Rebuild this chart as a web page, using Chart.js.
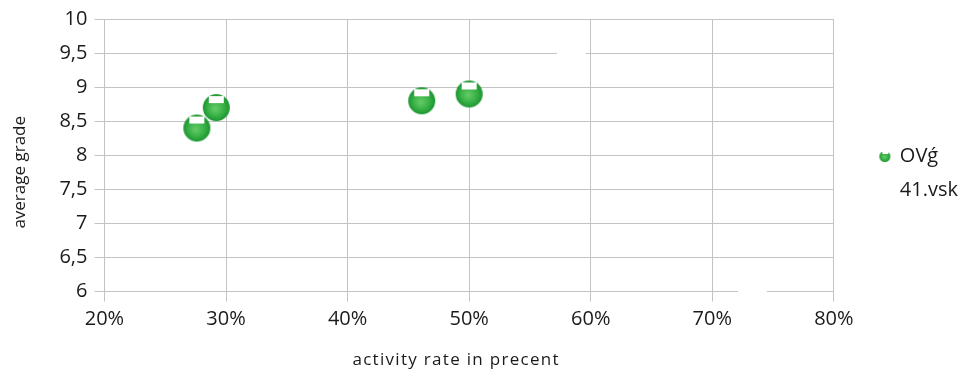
<!DOCTYPE html>
<html>
<head>
<meta charset="utf-8">
<script src="https://cdn.jsdelivr.net/npm/chart.js@4/dist/chart.umd.min.js"></script>
<style>
  html, body { margin: 0; padding: 0; background: #ffffff; }
  canvas { display: block; }
</style>
</head>
<body>
<canvas id="chart" width="969" height="369"></canvas>
<script>
// Series data: activity rate (percent) vs. average grade
const seriesNames = ['OVǵ', '41.vsk'];
const ovgActivity = [27.6, 29.2, 46.1, 50.0];
const ovgGrade = [8.4, 8.7, 8.8, 8.9];
const vskActivity = [58.4, 73.3];
const vskGrade = [9.5, 6.0];

// Axis ranges and tick steps
const xRange = [20, 80];
const xStep = 10;
const yRange = [6, 10];
const yStep = 0.5;

const FONT = '"Open Sans", "Liberation Sans", sans-serif';
const TEXT = '#1a1a1a';
const GRID = '#c3c3c3';

// Glossy green sphere marker with a small white cap
function makeSphere(r, capW, capH, capTop) {
  const size = Math.ceil(r * 2) + 2;
  const c = document.createElement('canvas');
  c.width = size; c.height = size;
  const g = c.getContext('2d');
  const cx = size / 2, cy = size / 2;
  const grad = g.createRadialGradient(cx - r * 0.1, cy + r * 0.1, 0, cx, cy, r);
  grad.addColorStop(0, '#66cc66');
  grad.addColorStop(0.55, '#3cb44a');
  grad.addColorStop(1, '#1b9530');
  g.fillStyle = grad;
  g.beginPath();
  g.arc(cx, cy, r, 0, Math.PI * 2);
  g.fill();
  g.fillStyle = '#ffffff';
  g.fillRect(Math.round(cx - capW / 2), Math.round(cy - r + capTop), capW, capH);
  return c;
}

const bigSphere = makeSphere(13.5, 15, 7, 2);
const smallSphere = makeSphere(5.5, 6, 3, 0);

const ovgPoints = ovgActivity.map((x, i) => ({ x, y: ovgGrade[i] }));
const vskPoints = vskActivity.map((x, i) => ({ x, y: vskGrade[i] }));

// Offset an axis title (and optionally space its letters) when it is drawn
function wrapTitle(scale, dx, dy, spacing) {
  if (!scale || scale._titleWrapped) return;
  const orig = scale.drawTitle;
  scale.drawTitle = function () {
    const ctx = this.ctx;
    ctx.save();
    ctx.translate(dx, dy);
    if (spacing) ctx.letterSpacing = spacing;
    orig.apply(this, arguments);
    ctx.restore();
  };
  scale._titleWrapped = true;
}

const layoutTweaks = {
  id: 'layoutTweaks',
  afterLayout(chart) {
    const lg = chart.legend;
    if (lg) { lg.top -= 19; lg.bottom -= 19; }
  },
  beforeDraw(chart) {
    wrapTitle(chart.scales.x, -13, 2, '1.3px');
    wrapTitle(chart.scales.y, 0, 17, null);
  }
};

new Chart(document.getElementById('chart'), {
  type: 'scatter',
  data: {
    datasets: [
      {
        label: seriesNames[0],
        data: ovgPoints,
        pointStyle: bigSphere,
        pointRadius: 14,
        pointHoverRadius: 14,
        backgroundColor: '#2fa83f',
        borderColor: '#2fa83f',
        clip: false
      },
      {
        label: seriesNames[1],
        data: vskPoints,
        pointStyle: 'circle',
        pointRadius: 14.5,
        pointHoverRadius: 14.5,
        pointBorderWidth: 0,
        backgroundColor: '#ffffff',
        borderColor: '#ffffff',
        clip: 2
      }
    ]
  },
  plugins: [layoutTweaks],
  options: {
    responsive: false,
    animation: false,
    devicePixelRatio: 1,
    layout: { padding: { left: 6, right: 1, top: 17, bottom: 1 } },
    plugins: {
      tooltip: { enabled: false },
      legend: {
        position: 'right',
        labels: {
          usePointStyle: true,
          pointStyleWidth: 10,
          padding: 14,
          color: TEXT,
          font: { family: FONT, size: 20 },
          generateLabels(chart) {
            const items = Chart.defaults.plugins.legend.labels.generateLabels(chart);
            items.forEach((it, i) => {
              if (i === 0) {
                it.pointStyle = smallSphere;
              } else {
                it.pointStyle = 'circle';
                it.fillStyle = '#ffffff';
                it.strokeStyle = '#ffffff';
              }
            });
            return items;
          }
        }
      }
    },
    scales: {
      x: {
        type: 'linear',
        min: xRange[0],
        max: xRange[1],
        ticks: {
          stepSize: xStep,
          color: TEXT,
          font: { family: FONT, size: 20 },
          padding: 6,
          callback: v => v + '%'
        },
        grid: { color: GRID, lineWidth: 1, tickLength: 10, tickColor: GRID },
        border: { color: GRID, width: 1 },
        title: {
          display: true,
          text: 'activity rate in precent',
          color: TEXT,
          font: { family: FONT, size: 17 },
          padding: { top: 10, bottom: 0 }
        }
      },
      y: {
        type: 'linear',
        min: yRange[0],
        max: yRange[1],
        ticks: {
          stepSize: yStep,
          color: TEXT,
          font: { family: FONT, size: 20 },
          padding: 7,
          callback: v => String(v).replace('.', ',')
        },
        grid: { color: GRID, lineWidth: 1, tickLength: 10, tickColor: GRID },
        border: { color: GRID, width: 1 },
        title: {
          display: true,
          text: 'average grade',
          color: TEXT,
          font: { family: FONT, size: 17 },
          padding: { top: 4, bottom: 22 }
        }
      },
      // empty spacer between the plot and the legend
      gap: {
        type: 'linear',
        position: 'right',
        display: true,
        grid: { display: false },
        border: { display: false },
        ticks: { display: false },
        afterFit(scale) { scale.width = 32; }
      }
    }
  }
});
</script>
</body>
</html>
